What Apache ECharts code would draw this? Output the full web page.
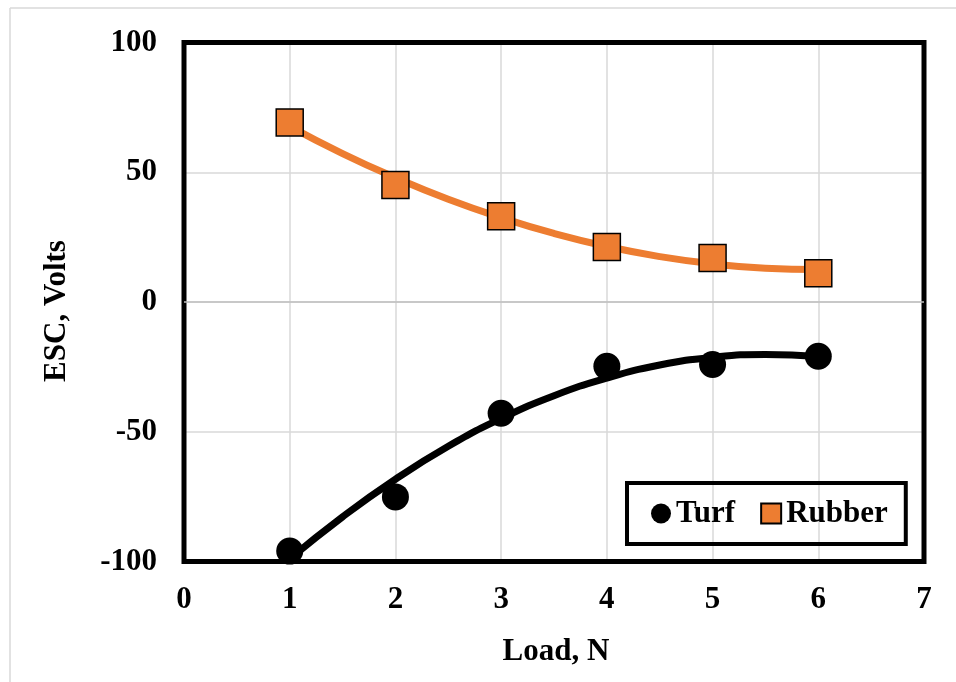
<!DOCTYPE html>
<html>
<head>
<meta charset="utf-8">
<script src="https://cdn.jsdelivr.net/npm/echarts@6/dist/echarts.min.js"></script>
<style>
html,body{margin:0;padding:0;background:#fff;}
#chart{width:956px;height:682px;}
</style>
</head>
<body>
<div id="chart"></div>
<script>
// Data
var loads = [1, 2, 3, 4, 5, 6];
var turfValues = [-96.0, -75.1, -42.9, -24.8, -24.1, -20.9];
var rubberValues = [69.2, 45.1, 33.0, 21.2, 17.0, 11.1];
// Trendline values
var trendLoads = [1, 1.5, 2, 2.5, 3, 3.5, 4, 4.5, 5, 5.5, 6];
var turfTrend = [-99.0, -82.8, -68.3, -55.6, -44.9, -36.1, -29.3, -24.3, -21.3, -20.2, -21.0];
var rubberTrend = [67.7, 57.2, 47.9, 39.6, 32.5, 26.4, 21.4, 17.5, 14.7, 13.0, 12.5];
var xTicks = [0, 1, 2, 3, 4, 5, 6, 7];
var yTicks = [-100, -50, 0, 50, 100];

function pairs(xs, ys) { return xs.map(function (x, i) { return [x, ys[i]]; }); }

var FONT = '"Liberation Serif", "Times New Roman", serif';
var ORANGE = '#ED7D31';
var GRID = '#d9d9d9';
var FS = 31;

var G = {left: 184, top: 42.5, width: 740, height: 519};

var chart = echarts.init(document.getElementById('chart'), null, {renderer: 'canvas'});
chart.setOption({
  animation: false,
  backgroundColor: '#fff',
  grid: {
    left: G.left, top: G.top, width: G.width, height: G.height,
    show: false
  },
  xAxis: {
    type: 'value', min: xTicks[0], max: xTicks[xTicks.length - 1], interval: 1,
    axisLine: {show: false}, axisTick: {show: false},
    splitLine: {show: true, showMinLine: false, showMaxLine: false, lineStyle: {color: GRID, width: 1.5}},
    axisLabel: {color: '#000', fontFamily: FONT, fontWeight: 'bold', fontSize: FS, margin: 23}
  },
  yAxis: {
    type: 'value', min: yTicks[0], max: yTicks[yTicks.length - 1], interval: 50,
    axisLine: {show: false}, axisTick: {show: false},
    splitLine: {show: true, showMinLine: false, showMaxLine: false, lineStyle: {color: GRID, width: 1.5}},
    axisLabel: {color: '#000', fontFamily: FONT, fontWeight: 'bold', fontSize: FS, margin: 27}
  },
  legend: {
    data: ['Turf', 'Rubber'],
    left: 627, top: 483,
    padding: [15, 18, 15, 24],
    borderColor: '#000', borderWidth: 4,
    itemWidth: 20, itemHeight: 20, itemGap: 25,
    textStyle: {color: '#000', fontFamily: FONT, fontWeight: 'bold', fontSize: FS, padding: [0, 0, 0, 0]}
  },
  graphic: [
    {type: 'line', shape: {x1: 10, y1: 8, x2: 956, y2: 8}, style: {stroke: GRID, lineWidth: 1.5}, silent: true},
    {type: 'line', shape: {x1: 10, y1: 8, x2: 10, y2: 682}, style: {stroke: GRID, lineWidth: 1.5}, silent: true},
    {type: 'rect', shape: {x: G.left, y: G.top, width: G.width, height: G.height}, z: 2,
      style: {fill: null, stroke: '#000', lineWidth: 5}, silent: true},
    {type: 'text', x: 57, y: 311, rotation: Math.PI / 2,
      style: {text: 'ESC, Volts', fill: '#000', font: 'bold ' + FS + 'px ' + FONT, textAlign: 'center', textVerticalAlign: 'middle'}},
    {type: 'text', x: 556, y: 652,
      style: {text: 'Load, N', fill: '#000', font: 'bold ' + FS + 'px ' + FONT, textAlign: 'center', textVerticalAlign: 'middle'}}
  ],
  series: [
    {
      name: 'Turf trend', type: 'line', data: pairs(trendLoads, turfTrend),
      smooth: true, showSymbol: false, z: 3,
      lineStyle: {color: '#000', width: 7}, itemStyle: {color: '#000'},
      markLine: {
        silent: true, symbol: 'none', label: {show: false},
        lineStyle: {color: '#bfbfbf', width: 1.5, type: 'solid'},
        data: [{yAxis: 0}]
      }
    },
    {
      name: 'Rubber trend', type: 'line', data: pairs(trendLoads, rubberTrend),
      smooth: true, showSymbol: false, z: 3,
      lineStyle: {color: ORANGE, width: 7}, itemStyle: {color: ORANGE}
    },
    {
      name: 'Turf', type: 'scatter', data: pairs(loads, turfValues),
      symbol: 'circle', symbolSize: 27, z: 5,
      itemStyle: {color: '#000', opacity: 1}
    },
    {
      name: 'Rubber', type: 'scatter', data: pairs(loads, rubberValues),
      symbol: 'rect', symbolSize: 27, z: 5,
      itemStyle: {color: ORANGE, borderColor: '#000', borderWidth: 1.5, opacity: 1}
    }
  ]
});
</script>
</body>
</html>
